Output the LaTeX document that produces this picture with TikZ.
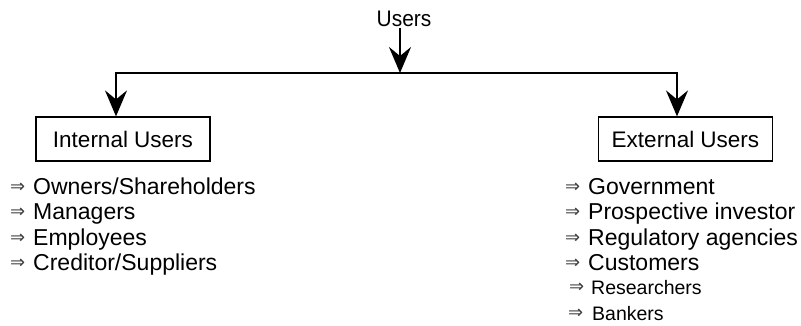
\documentclass[tikz,border=0pt]{standalone}
\usepackage{fontspec}
\setmainfont{Liberation Sans}
\newfontfamily\arrfont{DejaVu Sans}
\usetikzlibrary{arrows.meta}
\newcommand{\itemarr}[1]{\makebox[#1][l]{\raisebox{1.5pt}{\arrfont\fontsize{18}{18}\selectfont\color{black!75}⇒}}}
\tikzset{
  conn/.style={line width=2pt, line join=miter, -{Stealth[length=26pt,width=22pt,inset=9pt]}},
  userbox/.style={draw, line width=1.2pt, minimum width=174pt, minimum height=44pt, inner sep=0pt,
    font=\fontsize{22.5}{22.5}\selectfont},
  litem/.style={anchor=base west, inner sep=0pt, font=\fontsize{23}{23}\selectfont},
  sitem/.style={anchor=base west, inner sep=0pt, font=\fontsize{19.5}{19.5}\selectfont},
  title/.style={font=\fontsize{22.5}{22.5}\selectfont\addfontfeature{FakeStretch=0.93}, inner sep=2pt, anchor=base}
}
\begin{document}
\begin{tikzpicture}[x=1pt,y=-1pt]
\useasboundingbox (0,0) rectangle (801,325);
\node[title] (users) at (404,26) {Users};
\coordinate (jM) at (400,73);
\coordinate (jL) at (116,73);
\coordinate (jR) at (677,73);
\node[userbox] (internal) at (123,139) {Internal Users};
\node[userbox] (external) at (685.5,139) {External Users};
\draw[conn] (users.south -| jM) -- (jM);
\draw[conn] (jM) -| (jL |- internal.north);
\draw[conn] (jM) -| (jR |- external.north);
% internal list
\node[litem] (i1) at (10,194) {\itemarr{23pt}Owners/Shareholders};
\node[litem] (i2) at (10,219) {\itemarr{23pt}Managers};
\node[litem] (i3) at (10,245) {\itemarr{23pt}Employees};
\node[litem] (i4) at (10,270) {\itemarr{23pt}Creditor/Suppliers};
% external list
\node[litem] (e1) at (565,194) {\itemarr{23pt}Government};
\node[litem] (e2) at (565,219) {\itemarr{23pt}Prospective investor};
\node[litem] (e3) at (565,245) {\itemarr{23pt}Regulatory agencies};
\node[litem] (e4) at (565,270) {\itemarr{23pt}Customers};
\node[sitem] (e5) at (569,294) {\itemarr{22pt}Researchers};
\node[sitem] (e6) at (568,320) {\itemarr{24pt}Bankers};
\end{tikzpicture}
\end{document}
